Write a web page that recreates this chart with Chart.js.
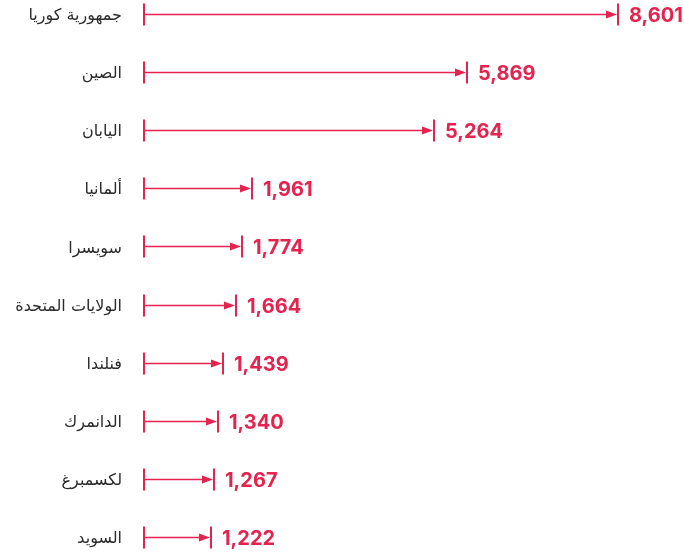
<!DOCTYPE html>
<html>
<head>
<meta charset="utf-8">
<script src="https://cdn.jsdelivr.net/npm/chart.js@4"></script>
<style>
html,body{margin:0;padding:0;background:#fff;}
#wrap{width:684px;height:553px;position:relative;}
</style>
</head>
<body>
<div id="wrap"><canvas id="c"></canvas></div>
<script>
const categories = ["جمهورية كوريا","الصين","اليابان","ألمانيا","سويسرا","الولايات المتحدة","فنلندا","الدانمرك","لكسمبرغ","السويد"];
const values = [8601, 5869, 5264, 1961, 1774, 1664, 1439, 1340, 1267, 1222];

const RED = "#e5234f";

const arrowPlugin = {
  id: "arrows",
  afterDatasetsDraw(chart) {
    const ctx = chart.ctx;
    const xs = chart.scales.x, ys = chart.scales.y;
    ctx.save();
    ctx.strokeStyle = RED;
    ctx.fillStyle = RED;
    values.forEach((v, i) => {
      const y = Math.round(ys.getPixelForValue(i)) + 0.5;
      const x0 = Math.round(xs.getPixelForValue(0));
      const x1 = Math.round(xs.getPixelForValue(v));
      ctx.lineWidth = 2;
      ctx.beginPath();
      ctx.moveTo(x0, y - 11); ctx.lineTo(x0, y + 11);
      ctx.moveTo(x1, y - 11); ctx.lineTo(x1, y + 11);
      ctx.stroke();
      ctx.lineWidth = 1.6;
      ctx.beginPath();
      ctx.moveTo(x0, y); ctx.lineTo(x1 - 8, y);
      ctx.stroke();
      ctx.beginPath();
      ctx.moveTo(x1 - 1, y);
      ctx.lineTo(x1 - 12, y - 4);
      ctx.lineTo(x1 - 12, y + 4);
      ctx.closePath();
      ctx.fill();
      ctx.font = "bold 20px Inter";
      ctx.textAlign = "left";
      ctx.textBaseline = "middle";
      ctx.fillText(v.toLocaleString("en-US"), x1 + 11, y + 1);
    });
    ctx.restore();
  }
};

new Chart(document.getElementById("c"), {
  type: "bar",
  data: {
    labels: categories,
    datasets: [{
      data: values,
      backgroundColor: "rgba(0,0,0,0)",
      borderWidth: 0
    }]
  },
  options: {
    indexAxis: "y",
    responsive: true,
    maintainAspectRatio: false,
    animation: false,
    layout: { padding: { top: 14, bottom: 16, left: 0, right: 11 } },
    plugins: { legend: { display: false }, tooltip: { enabled: false } },
    scales: {
      x: {
        display: false,
        min: 0,
        max: 9600
      },
      y: {
        offset: false,
        grid: { display: false, drawTicks: false },
        border: { display: false },
        ticks: {
          color: "#2b2b2b",
          padding: 22,
          labelOffset: 2,
          font: { family: "DejaVu Sans", size: 16 }
        },
        afterFit(scale) {
          scale.width = 144;
          scale.paddingTop = 0;
          scale.paddingBottom = 0;
        }
      }
    }
  },
  plugins: [arrowPlugin]
});
</script>
</body>
</html>
